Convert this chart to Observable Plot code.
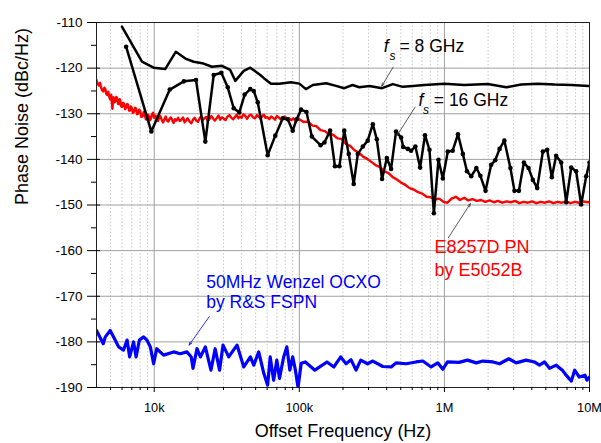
<!DOCTYPE html>
<html>
<head>
<meta charset="utf-8">
<script src="https://cdn.jsdelivr.net/npm/d3@7"></script>
<script src="https://cdn.jsdelivr.net/npm/@observablehq/plot@0.6"></script>
<style>
  html, body { margin: 0; padding: 0; background: #fff; }
  #chart svg { display: block; }
</style>
</head>
<body>
<div id="chart"></div>
<script>
// Phase noise of the sampled clock at fs = 8 GHz (smooth trace)
const fs8Freq = [5990, 8230, 9900, 11900, 14100, 16400, 18700, 21900, 25000, 29300,
  33400, 36200, 41400, 45900, 50200, 53800, 57000, 63800, 72800, 87700,
  100000, 111000, 124000, 153000, 179000, 204000, 233000, 259000, 304000, 372000,
  441000, 517000, 606000, 728000, 1000000, 1370000, 1990000, 2670000, 3380000, 4410000,
  5740000, 7480000, 10000000];
const fs8Noise = [-110.9, -118.6, -119.9, -120.2, -116.4, -117.9, -118.6, -119.0, -119.7, -119.5,
  -120.4, -122.8, -120.6, -119.9, -120.8, -121.5, -122.2, -123.4, -123.4, -123.1,
  -123.4, -124.6, -123.7, -123.3, -123.9, -124.4, -123.7, -124.2, -123.9, -124.4,
  -123.5, -124.1, -123.9, -123.7, -123.4, -123.7, -123.5, -124.2, -123.6, -123.4,
  -123.6, -123.7, -123.9];

// Phase noise at fs = 16 GHz (measured points)
const fs16Freq = [6400, 9550, 12800, 16000, 19400, 22500, 25700, 29000, 32100, 35300,
  38600, 42000, 45900, 48500, 51700, 60500, 68300, 76900, 83200, 90000,
  95900, 102800, 112000, 122000, 140000, 149000, 163000, 176000, 189000, 204000,
  219000, 237000, 253000, 274000, 296000, 321000, 342000, 372000, 401000, 429000,
  464000, 503000, 520000, 560000, 589000, 631000, 680000, 735000, 789000, 846000,
  910000, 975000, 1055000, 1140000, 1240000, 1340000, 1430000, 1530000, 1660000, 1770000,
  1920000, 2100000, 2240000, 2400000, 2590000, 2850000, 3040000, 3260000, 3530000, 3800000,
  4070000, 4360000, 4770000, 5110000, 5500000, 5890000, 6380000, 6910000, 7480000, 8090000,
  8760000, 9490000, 10000000];
const fs16Noise = [-115.3, -133.9, -124.7, -122.9, -122.6, -136.1, -121.5, -121.0, -124.2, -128.8,
  -129.7, -125.8, -124.6, -125.0, -127.5, -139.1, -134.8, -131.0, -131.2, -133.7,
  -131.2, -129.1, -129.6, -135.0, -136.9, -136.3, -133.7, -141.5, -141.5, -133.7,
  -138.8, -145.4, -138.8, -137.2, -135.9, -132.3, -135.6, -144.3, -139.7, -142.1,
  -133.9, -135.2, -137.3, -137.7, -138.1, -137.2, -141.8, -134.7, -137.9, -151.8,
  -140.1, -144.2, -138.3, -138.1, -134.5, -138.8, -142.6, -143.7, -141.9, -143.6,
  -146.9, -141.2, -140.2, -137.7, -135.9, -141.9, -146.9, -146.9, -140.7, -141.9,
  -144.5, -146.3, -138.3, -137.9, -143.9, -139.2, -140.7, -149.4, -141.8, -142.6,
  -149.9, -143.7, -140.7];

// E8257D phase noise measured by E5052B
const e8257Freq = [4000, 4080, 4150, 4230, 4300, 4380, 4450, 4530, 4600, 4680,
  4750, 4830, 4900, 4980, 5050, 5100, 5150, 5200, 5250, 5330,
  5400, 5480, 5550, 5630, 5700, 5780, 5850, 5930, 6000, 6100,
  6200, 6300, 6400, 6500, 6600, 6700, 6800, 6900, 7000, 7120,
  7250, 7380, 7500, 7620, 7750, 7880, 8000, 8150, 8300, 8450,
  8600, 8750, 8900, 9050, 9200, 9350, 9500, 9650, 9800, 10000,
  10200, 10400, 10600, 10800, 11000, 11250, 11500, 11750, 12000, 12250,
  12500, 12750, 13000, 13300, 13600, 13900, 14200, 14600, 15000, 15400,
  15800, 16200, 16600, 17000, 17500, 18000, 18500, 19000, 19500, 20000,
  20500, 21000, 21500, 22100, 22800, 23400, 24000, 24700, 25500, 26200,
  27000, 27700, 28500, 29200, 30000, 31000, 32000, 33000, 34000, 35000,
  36000, 37000, 38000, 39000, 40000, 41200, 42500, 43700, 45000, 46500,
  48000, 49500, 51000, 52500, 54000, 55500, 57000, 58500, 60000, 62000,
  64000, 66000, 68000, 70000, 72000, 74500, 77000, 79500, 82000, 85000,
  88000, 91000, 94000, 97000, 100000, 107000, 115000, 123000, 131000, 140000,
  150000, 160000, 171000, 183000, 196000, 210000, 225000, 240000, 257000, 275000,
  294000, 315000, 337000, 360000, 385000, 412000, 440000, 470000, 503000, 538000,
  575000, 615000, 658000, 704000, 753000, 805000, 861000, 920000, 985000, 1050000,
  1120000, 1200000, 1280000, 1370000, 1460000, 1560000, 1670000, 1790000, 1910000, 2050000,
  2190000, 2340000, 2500000, 2680000, 2870000, 3070000, 3280000, 3510000, 3760000, 4020000,
  4300000, 4600000, 4930000, 5270000, 5640000, 6040000, 6460000, 6910000, 7400000, 7920000,
  8470000, 9060000, 9700000, 10000000];
const e8257Noise = [-122.6, -123.5, -123.8, -123.2, -124.2, -124.9, -125.1, -124.3, -124.6, -125.7,
  -125.9, -125.2, -126.3, -126.9, -125.8, -127.4, -128.9, -127.1, -126.4, -127.5,
  -127.2, -126.3, -126.6, -127.8, -127.9, -126.8, -127.3, -128.4, -128.5, -127.6,
  -127.8, -129.0, -128.6, -127.9, -128.0, -129.3, -129.3, -128.4, -128.7, -129.8,
  -129.6, -128.7, -128.9, -130.1, -130.0, -129.1, -129.4, -130.7, -130.6, -129.6,
  -130.1, -131.2, -131.3, -130.2, -130.5, -131.4, -131.0, -130.1, -129.8, -130.9,
  -130.4, -131.0, -131.6, -130.9, -130.5, -131.3, -131.9, -131.2, -130.6, -131.5,
  -131.7, -131.1, -130.8, -131.4, -132.0, -131.2, -131.5, -130.9, -131.6, -131.3,
  -130.8, -131.9, -131.4, -131.0, -131.7, -132.1, -131.3, -130.9, -131.5, -131.8,
  -131.1, -130.6, -131.4, -131.0, -130.7, -131.6, -131.2, -130.5, -131.1, -131.5,
  -130.9, -130.4, -131.3, -130.8, -131.0, -131.4, -130.6, -130.3, -130.9, -131.2,
  -130.7, -130.2, -131.0, -130.6, -130.9, -130.1, -130.5, -131.1, -130.4, -130.2,
  -130.8, -131.0, -130.3, -130.6, -131.1, -130.5, -130.2, -130.9, -130.7, -131.2,
  -130.6, -130.9, -131.3, -130.5, -130.8, -131.2, -130.9, -130.6, -131.3, -131.0,
  -131.4, -131.0, -131.6, -131.3, -131.2, -131.8, -131.7, -132.6, -132.7, -133.6,
  -133.8, -134.5, -134.6, -135.4, -135.5, -136.6, -137.1, -138.0, -138.5, -139.4,
  -139.9, -140.6, -141.3, -141.7, -142.6, -143.0, -143.9, -144.4, -145.1, -145.6,
  -146.3, -146.6, -147.2, -147.5, -148.2, -148.3, -148.8, -148.6, -149.3, -149.5,
  -148.6, -148.2, -148.9, -148.4, -149.0, -148.7, -149.1, -148.9, -149.3, -149.0,
  -149.4, -149.1, -149.5, -149.2, -149.4, -149.1, -149.6, -149.3, -149.5, -149.2,
  -149.6, -149.3, -149.5, -149.2, -149.6, -149.3, -149.5, -149.2, -149.6, -149.3,
  -149.5, -149.2, -149.4, -149.3];

// 50 MHz Wenzel OCXO measured by R&S FSPN
const ocxoFreq = [4000, 4450, 4600, 4970, 5380, 5680, 6150, 6500, 6770, 7200,
  7500, 7900, 8450, 8900, 9400, 9900, 10400, 11600, 13600, 15100,
  16800, 18000, 18500, 19700, 20800, 22500, 24600, 26300, 28200, 29800,
  32600, 37200, 41400, 46000, 48500, 52500, 56900, 60500, 63000, 66500,
  70000, 73000, 78000, 82000, 86000, 90000, 94000, 98000, 103000, 110000,
  128000, 155000, 173000, 193000, 210000, 227000, 246000, 265000, 295000, 321000,
  376000, 430000, 464000, 544000, 637000, 710000, 810000, 900000, 975000, 1050000,
  1260000, 1440000, 1660000, 1840000, 2160000, 2400000, 2780000, 3120000, 3660000, 4170000,
  4520000, 4900000, 5300000, 5900000, 6500000, 6900000, 7500000, 7900000, 8500000, 9300000,
  9600000, 10000000];
const ocxoNoise = [-177.5, -180.4, -178.9, -177.5, -179.6, -181.1, -181.8, -179.6, -183.3, -180.0,
  -183.3, -179.6, -178.9, -179.6, -181.1, -184.8, -181.5, -182.9, -182.2, -182.6,
  -182.2, -183.3, -185.8, -181.5, -183.3, -181.1, -186.2, -181.5, -186.2, -180.7,
  -183.3, -180.7, -185.5, -183.3, -185.1, -182.2, -186.9, -189.5, -183.3, -188.4,
  -184.0, -188.0, -183.3, -181.1, -186.2, -183.3, -186.2, -190.0, -184.7, -184.4,
  -186.2, -184.4, -185.5, -183.3, -184.8, -183.9, -186.2, -184.0, -184.8, -184.2,
  -185.4, -185.5, -184.6, -184.8, -184.4, -184.2, -185.5, -184.6, -186.0, -184.4,
  -184.5, -184.0, -184.6, -184.2, -184.4, -184.8, -183.7, -184.6, -184.0, -184.4,
  -185.1, -184.4, -185.8, -185.1, -186.2, -187.3, -188.6, -186.2, -187.7, -187.3,
  -188.4, -187.7];

// Axis ticks and labels
const xMajorTicks = [1e4, 1e5, 1e6, 1e7];
const xTickLabels = ["10k", "100k", "1M", "10M"];
const xMinorSteps = [2, 3, 4, 5, 6, 7, 8, 9];
const yTicks = [-190, -180, -170, -160, -150, -140, -130, -120, -110];
const yTickLabels = ["-190", "-180", "-170", "-160", "-150", "-140", "-130", "-120", "-110"];
const yMinorTicks = [-185, -175, -165, -155, -145, -135, -125, -115];
const xTitle = "Offset Frequency (Hz)";
const yTitle = "Phase Noise (dBc/Hz)";

// Annotation texts and leader arrows (data coordinates)
const plainNotes = [
  {f: 490e3, dB: -115.3, text: "= 8 GHz", color: "#000000", size: 17.5},
  {f: 845e3, dB: -127.15, text: "= 16 GHz", color: "#000000", size: 17.5},
  {f: 853e3, dB: -159.3, text: "E8257D PN", color: "#ff0000", size: 18},
  {f: 853e3, dB: -164.2, text: "by E5052B", color: "#ff0000", size: 18},
  {f: 22.8e3, dB: -166.9, text: "50MHz Wenzel OCXO", color: "#0000ff", size: 17.5},
  {f: 22.8e3, dB: -171.4, text: "by R&S FSPN", color: "#0000ff", size: 17.5}
];
const italicNotes = [
  {f: 382e3, dB: -115.3, text: "f"},
  {f: 662e3, dB: -127.15, text: "f"}
];
const subNotes = [
  {f: 418e3, dB: -117.4, text: "s"},
  {f: 712e3, dB: -129.3, text: "s"}
];
const leaders = [
  {f1: 443e3, dB1: -119.8, f2: 370e3, dB2: -123.95, color: "#333333"},
  {f1: 628e3, dB1: -128.55, f2: 472e3, dB2: -134.75, color: "#333333"},
  {f1: 1.066e6, dB1: -157.15, f2: 1.51e6, dB2: -149.7, color: "#333333"},
  {f1: 23.9e3, dB1: -174.5, f2: 17.4e3, dB2: -180.7, color: "#0000ff"}
];

const toRows = (fs, vs) => fs.map((f, i) => ({f, dB: vs[i]}));
const fs8 = toRows(fs8Freq, fs8Noise);
const fs16 = toRows(fs16Freq, fs16Noise);
const e8257 = toRows(e8257Freq, e8257Noise);
const ocxo = toRows(ocxoFreq, ocxoNoise);

const xMinorTicks = [];
for (const decade of [1e3, 1e4, 1e5, 1e6]) {
  for (const m of xMinorSteps) {
    const v = m * decade;
    if (v > 4000 && v < 1e7) xMinorTicks.push(v);
  }
}
const yGrid = yTicks.slice(1, -1);
const font = "Arial, 'Liberation Sans', sans-serif";

const chart = Plot.plot({
  width: 601,
  height: 443,
  marginLeft: 96,
  marginRight: 12,
  marginTop: 22,
  marginBottom: 56,
  style: {fontFamily: font, fontSize: "13.5px", color: "#000", background: "#fff", overflow: "visible"},
  x: {type: "log", domain: [4000, 1e7]},
  y: {domain: [-190, -110]},
  marks: [
    Plot.gridX({ticks: xMinorTicks, stroke: "#c8c8c8", strokeOpacity: 1, strokeDasharray: "1.5,2"}),
    Plot.gridX({ticks: xMajorTicks, stroke: "#a0a0a0", strokeOpacity: 1}),
    Plot.gridY({ticks: yGrid, stroke: "#a0a0a0", strokeOpacity: 1}),
    Plot.line(e8257, {x: "f", y: "dB", stroke: "#ff0000", strokeWidth: 2.4, clip: true}),
    Plot.line(fs8, {x: "f", y: "dB", stroke: "#000", strokeWidth: 2.5, clip: true}),
    Plot.line(fs16, {x: "f", y: "dB", stroke: "#000", strokeWidth: 2.5, clip: true}),
    Plot.dot(fs16, {x: "f", y: "dB", r: 2.3, fill: "#000", stroke: "none", clip: true}),
    Plot.line(ocxo, {x: "f", y: "dB", stroke: "#0000ff", strokeWidth: 3.2, clip: true}),
    Plot.frame({stroke: "#222"}),
    // x axis
    Plot.axisX({ticks: xMajorTicks, tickFormat: d => xTickLabels[xMajorTicks.indexOf(d)],
      tickSize: 5, tickPadding: 10, fontSize: 12.8, label: null}),
    Plot.axisX({ticks: xMinorTicks, tickFormat: () => "", tickSize: 3, label: null}),
    // y axis: outward ticks with labels, short inward ticks, minor ticks
    Plot.axisY({ticks: yTicks, tickFormat: d => yTickLabels[yTicks.indexOf(d)],
      tickSize: 9, tickPadding: 5, fontSize: 13.5, label: null}),
    Plot.axisY({ticks: yTicks, tickFormat: () => "", tickSize: 4, dx: 4, label: null}),
    Plot.axisY({ticks: yMinorTicks, tickFormat: () => "", tickSize: 5, label: null}),
    // axis titles
    Plot.text([xTitle], {text: d => d, frameAnchor: "bottom", dy: 49, fontSize: 18, fill: "#000"}),
    Plot.text([yTitle], {text: d => d, frameAnchor: "left", dx: -74, rotate: -90, fontSize: 18, fill: "#000"}),
    // leader arrows
    Plot.arrow(leaders, {x1: "f1", y1: "dB1", x2: "f2", y2: "dB2", stroke: "color",
      strokeWidth: 0.8, headLength: 6, headAngle: 40}),
    // annotations
    Plot.text(plainNotes, {x: "f", y: "dB", text: "text", fill: "color", fontSize: "size", textAnchor: "start"}),
    Plot.text(italicNotes, {x: "f", y: "dB", text: "text", fill: "#000", fontSize: 17.5, fontStyle: "italic", textAnchor: "start"}),
    Plot.text(subNotes, {x: "f", y: "dB", text: "text", fill: "#000", fontSize: 12, fontStyle: "italic", textAnchor: "start"})
  ]
});

document.getElementById("chart").appendChild(chart);
</script>
</body>
</html>
